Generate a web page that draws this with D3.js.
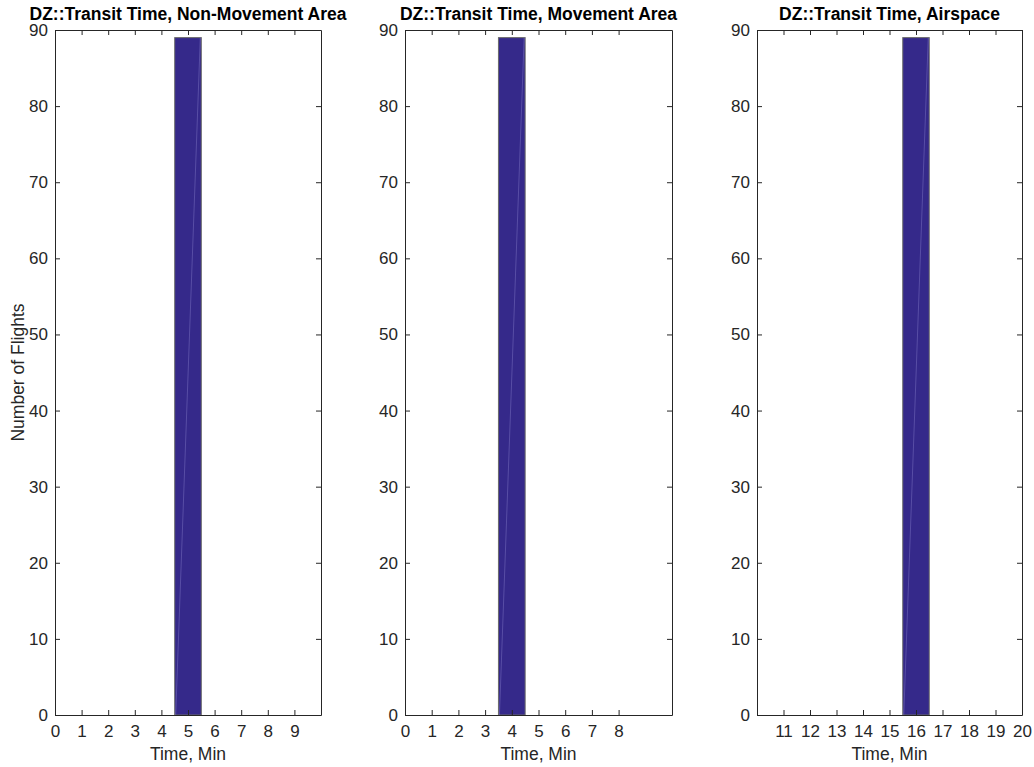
<!DOCTYPE html>
<html>
<head>
<meta charset="utf-8">
<script src="https://d3js.org/d3.v7.min.js"></script>
<style>
  body { margin: 0; background: #fff; }
  svg { font-family: "Liberation Sans", Arial, sans-serif; }
  .tick text { fill: #262626; }
</style>
</head>
<body>
<svg id="chart" width="1034" height="767"></svg>
<script>
// titulos de cada panel
const titles = ["DZ::Transit Time, Non-Movement Area", "DZ::Transit Time, Movement Area", "DZ::Transit Time, Airspace"];

// centros de los bins y numero de vuelos
const bins1 = [0, 1, 2, 3, 4, 5, 6, 7, 8, 9];
const counts1 = [0, 0, 0, 0, 0, 89, 0, 0, 0, 0];
const bins2 = [0, 1, 2, 3, 4, 5, 6, 7, 8];
const counts2 = [0, 0, 0, 0, 89, 0, 0, 0, 0];
const bins3 = [11, 12, 13, 14, 15, 16, 17, 18, 19];
const counts3 = [0, 0, 0, 0, 0, 89, 0, 0, 0];

// dominios y ticks
const xDomains = [[0, 10], [0, 10], [10, 20]];
const xTicks1 = [0, 1, 2, 3, 4, 5, 6, 7, 8, 9];
const xTicks2 = [0, 1, 2, 3, 4, 5, 6, 7, 8];
const xTicks3 = [11, 12, 13, 14, 15, 16, 17, 18, 19, 20];
const yTicks = [0, 10, 20, 30, 40, 50, 60, 70, 80, 90];

const panels = [
  {title: titles[0], bins: bins1, counts: counts1, dom: xDomains[0], ticks: xTicks1, x0: 55, x1: 321},
  {title: titles[1], bins: bins2, counts: counts2, dom: xDomains[1], ticks: xTicks2, x0: 405, x1: 672},
  {title: titles[2], bins: bins3, counts: counts3, dom: xDomains[2], ticks: xTicks3, x0: 757, x1: 1022}
];

const svg = d3.select("#chart");
const yTop = 30, yBottom = 715;
const y = d3.scaleLinear([0, 90], [yBottom, yTop]);
const axisCol = "#262626";

panels.forEach((p, k) => {
  const x = d3.scaleLinear(p.dom, [p.x0, p.x1]);
  const g = svg.append("g");
  const data = p.bins.map((b, i) => ({b: b, c: p.counts[i]}));

  // barras
  g.selectAll("rect.bar").data(data).join("rect")
    .attr("class", "bar")
    .attr("x", d => x(d.b - 0.5))
    .attr("width", d => x(d.b + 0.5) - x(d.b - 0.5))
    .attr("y", d => y(d.c))
    .attr("height", d => y(0) - y(d.c))
    .attr("fill", "#35298a")
    .attr("stroke", "#6b6b6b")
    .attr("stroke-width", 1);

  // linea diagonal tenue dentro de la barra (artefacto de render)
  g.selectAll("line.diag").data(data.filter(d => d.c > 0)).join("line")
    .attr("x1", d => x(d.b - 0.5) + 1).attr("y1", y(0))
    .attr("x2", d => x(d.b + 0.5) - 1).attr("y2", d => y(d.c))
    .attr("stroke", "#7f76c4").attr("stroke-width", 0.8).attr("opacity", 0.6);

  // ejes
  const xb = g.append("g").attr("transform", `translate(0,${yBottom})`)
    .call(d3.axisBottom(x).tickValues(p.ticks).tickSizeInner(-5).tickSizeOuter(0).tickPadding(10).tickFormat(d3.format("d")));
  const xt = g.append("g").attr("transform", `translate(0,${yTop})`)
    .call(d3.axisTop(x).tickValues(p.ticks).tickSizeInner(-5).tickSizeOuter(0).tickFormat(""));
  const yl = g.append("g").attr("transform", `translate(${p.x0},0)`)
    .call(d3.axisLeft(y).tickValues(yTicks).tickSizeInner(-5).tickSizeOuter(0).tickPadding(7));
  const yr = g.append("g").attr("transform", `translate(${p.x1},0)`)
    .call(d3.axisRight(y).tickValues(yTicks).tickSizeInner(-5).tickSizeOuter(0).tickFormat(""));

  [xb, xt, yl, yr].forEach(a => {
    a.selectAll("path, line").attr("stroke", axisCol);
    a.selectAll("text").attr("font-size", 17).attr("font-family", "'Liberation Sans', Arial, sans-serif");
  });

  // titulo
  svg.append("text")
    .attr("x", (p.x0 + p.x1) / 2).attr("y", 20)
    .attr("text-anchor", "middle")
    .attr("font-weight", "bold").attr("font-size", 17.5)
    .attr("fill", "#000")
    .text(p.title);

  // etiqueta eje x
  svg.append("text")
    .attr("x", (p.x0 + p.x1) / 2).attr("y", 760)
    .attr("text-anchor", "middle")
    .attr("font-size", 17.5).attr("fill", axisCol)
    .text("Time, Min");
});

// etiqueta eje y (solo el primer panel)
svg.append("text")
  .attr("transform", `translate(24,${(yTop + yBottom) / 2}) rotate(-90)`)
  .attr("text-anchor", "middle")
  .attr("font-size", 17.5).attr("fill", axisCol)
  .text("Number of Flights");
</script>
</body>
</html>
